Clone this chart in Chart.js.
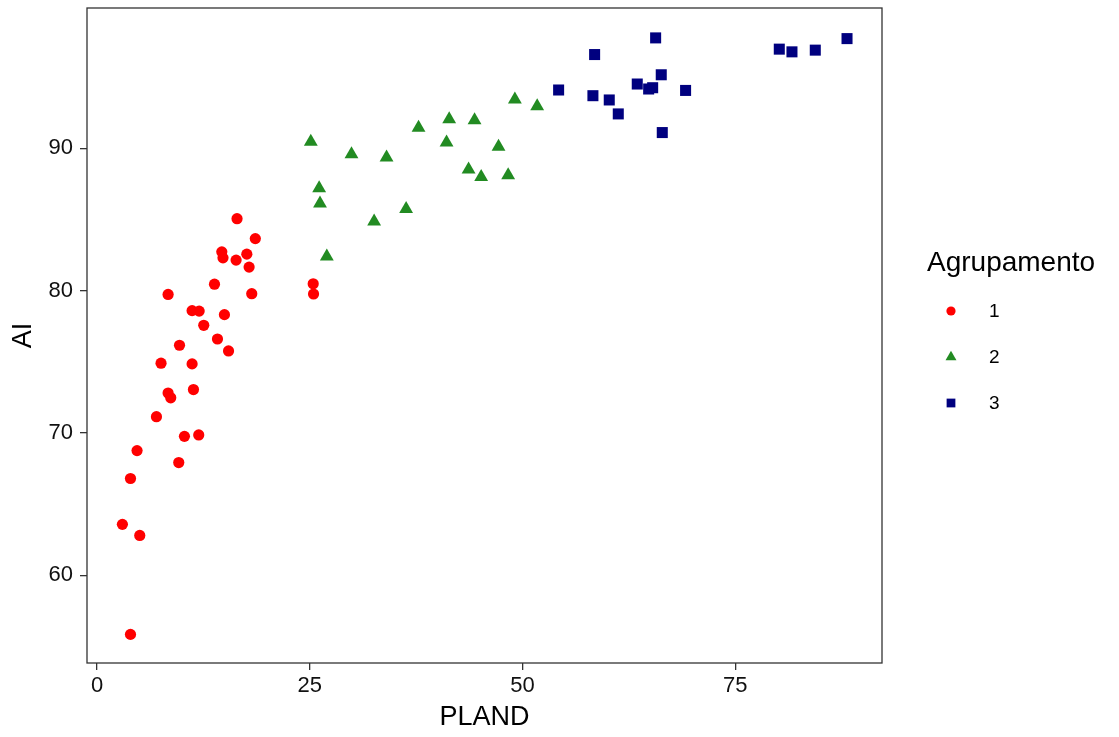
<!DOCTYPE html>
<html><head><meta charset="utf-8">
<script src="https://cdn.jsdelivr.net/npm/chart.js@4.4.1/dist/chart.umd.min.js"></script>
<style>html,body{margin:0;padding:0;background:#fff;}</style>
</head><body>
<canvas id="c" width="1119" height="737"></canvas>
<script>
// ---- data ----
const groupLabels = ['1', '2', '3'];
const legendTitle = 'Agrupamento';
const xTitle = 'PLAND';
const yTitle = 'AI';

const g1X = [16.45, 18.6, 14.66, 14.8, 16.34, 17.6, 17.87, 13.8, 8.35, 18.18, 25.4, 25.44, 11.17, 12.0, 14.97, 12.54, 14.15, 15.45, 9.69, 7.52, 11.17, 8.35, 8.66, 11.33, 6.98, 10.27, 11.95, 4.7, 9.6, 3.93, 2.98, 5.02, 3.93];
const g1Y = [85.05, 83.65, 82.72, 82.3, 82.14, 82.56, 81.65, 80.45, 79.73, 79.78, 80.48, 79.76, 78.59, 78.56, 78.31, 77.56, 76.6, 75.76, 76.16, 74.9, 74.85, 72.8, 72.47, 73.05, 71.14, 69.76, 69.86, 68.76, 67.92, 66.8, 63.58, 62.8, 55.85];

const g2X = [25.12, 29.9, 34.02, 26.1, 26.2, 32.56, 36.32, 27.0, 37.78, 41.38, 44.36, 41.07, 47.18, 43.66, 45.14, 48.31, 49.1, 51.72];
const g2Y = [90.45, 89.58, 89.35, 87.18, 86.11, 84.85, 85.73, 82.39, 91.43, 92.03, 91.96, 90.4, 90.1, 88.51, 87.97, 88.11, 93.43, 92.94];

const g3X = [54.24, 58.47, 58.27, 60.19, 61.25, 63.48, 64.82, 65.29, 65.64, 66.3, 66.42, 69.16, 80.17, 81.66, 84.4, 88.13];
const g3Y = [94.09, 96.58, 93.69, 93.39, 92.41, 94.51, 94.16, 94.25, 97.75, 95.16, 91.1, 94.06, 96.96, 96.77, 96.89, 97.7];

const xTicks = [0, 25, 50, 75];
const yTicks = [60, 70, 80, 90];

const toPts = (xs, ys) => xs.map((x, i) => ({x: x, y: ys[i]}));

const FONT = "'Liberation Sans', Arial, sans-serif";

const panelBorder = {
  id: 'panelBorder',
  afterDatasetsDraw(chart) {
    const {ctx, chartArea: a} = chart;
    ctx.save();
    ctx.strokeStyle = '#333333';
    ctx.lineWidth = 1.3;
    ctx.strokeRect(a.left, a.top, a.right - a.left, a.bottom - a.top);
    ctx.restore();
  }
};

const customLegend = {
  id: 'customLegend',
  afterDraw(chart) {
    const ctx = chart.ctx;
    ctx.save();
    ctx.fillStyle = '#000';
    ctx.font = '28px ' + FONT;
    ctx.textAlign = 'left';
    ctx.textBaseline = 'alphabetic';
    ctx.fillText(legendTitle, 927, 271);
    chart.data.datasets.forEach((ds, i) => {
      const y = 311 + 46 * i;
      ctx.fillStyle = ds.backgroundColor;
      ctx.strokeStyle = ds.borderColor;
      ctx.lineWidth = 0;
      Chart.helpers.drawPoint(ctx, {pointStyle: ds.pointStyle, radius: ds.legendRadius, rotation: 0, borderWidth: 0}, 951, y);
      ctx.fillStyle = '#000';
      ctx.font = '19px ' + FONT;
      ctx.textBaseline = 'middle';
      ctx.fillText(ds.label, 989, y + 1);
    });
    ctx.restore();
  }
};

function zeroPad(s) { s.paddingTop = 0; s.paddingBottom = 0; s.paddingLeft = 0; s.paddingRight = 0; }

new Chart(document.getElementById('c'), {
  type: 'scatter',
  data: {
    datasets: [
      {label: groupLabels[0], data: toPts(g1X, g1Y), pointStyle: 'circle', pointRadius: 5.6, pointBorderWidth: 0, backgroundColor: '#FF0000', borderColor: '#FF0000', legendRadius: 4.6},
      {label: groupLabels[1], data: toPts(g2X, g2Y), pointStyle: 'triangle', pointRadius: 8, pointBorderWidth: 0, backgroundColor: '#228B22', borderColor: '#228B22', legendRadius: 6.3},
      {label: groupLabels[2], data: toPts(g3X, g3Y), pointStyle: 'rect', pointRadius: 7.8, pointBorderWidth: 0, backgroundColor: '#00007F', borderColor: '#00007F', legendRadius: 6.2}
    ]
  },
  options: {
    responsive: false,
    animation: false,
    devicePixelRatio: 1,
    layout: {padding: {left: 0, top: 6, right: 237, bottom: 0}},
    plugins: {legend: {display: false}, tooltip: {enabled: false}},
    scales: {
      x: {
        type: 'linear',
        min: -1.18, max: 92.24,
        afterFit(s) { s.height = 74; zeroPad(s); },
        afterBuildTicks(s) { s.ticks = xTicks.map(v => ({value: v})); },
        border: {display: false},
        grid: {drawOnChartArea: false, drawTicks: true, tickLength: 7, color: '#333333', lineWidth: 1.3},
        ticks: {color: '#111111', font: {family: FONT, size: 22}, padding: 3, maxRotation: 0},
        title: {display: true, text: xTitle, color: '#000', font: {family: FONT, size: 27}, padding: {top: 0, bottom: 3}}
      },
      y: {
        type: 'linear',
        min: 53.84, max: 99.85,
        afterFit(s) { s.width = 87; zeroPad(s); },
        afterBuildTicks(s) { s.ticks = yTicks.map(v => ({value: v})); },
        border: {display: false},
        grid: {drawOnChartArea: false, drawTicks: true, tickLength: 7, color: '#333333', lineWidth: 1.3},
        ticks: {color: '#111111', font: {family: FONT, size: 22}, padding: 7},
        title: {display: true, text: yTitle, color: '#000', font: {family: FONT, size: 27}, padding: {top: 7, bottom: 0}}
      }
    }
  },
  plugins: [panelBorder, customLegend]
});
</script>
</body></html>
